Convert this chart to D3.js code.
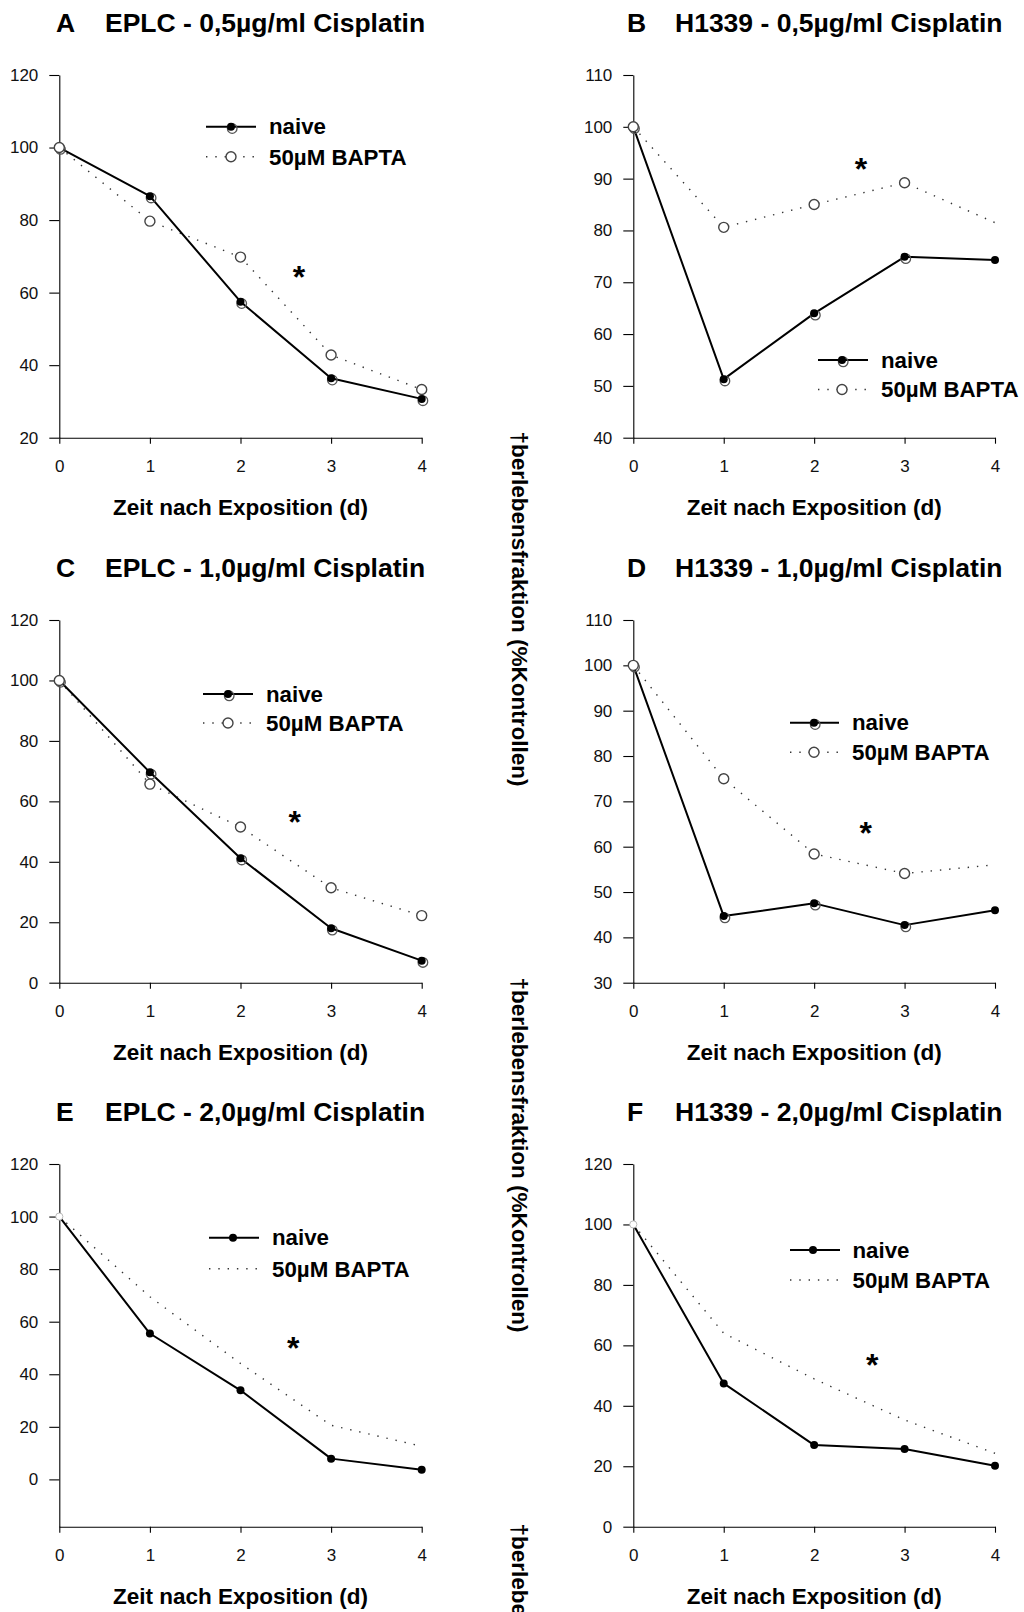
<!DOCTYPE html>
<html><head><meta charset="utf-8">
<script src="https://cdn.jsdelivr.net/npm/d3@7"></script>
<style>
body{margin:0;background:#fff}
svg{display:block}
text{font-family:"Liberation Sans",Arial,Helvetica,sans-serif}
</style>
</head><body>
<svg id="c" width="1024" height="1612"></svg>
<script>
// ---------- data ----------
const days = [0, 1, 2, 3, 4];
const panelLetters = ["A", "B", "C", "D", "E", "F"];
const panelTitles = [
  "EPLC - 0,5µg/ml Cisplatin", "H1339 - 0,5µg/ml Cisplatin",
  "EPLC - 1,0µg/ml Cisplatin", "H1339 - 1,0µg/ml Cisplatin",
  "EPLC - 2,0µg/ml Cisplatin", "H1339 - 2,0µg/ml Cisplatin"
];
const seriesNames = ["naive", "50µM BAPTA"];
const xLabel = "Zeit nach Exposition (d)";
const yLabel = "†berlebensfraktion (%Kontrollen)";
const starLabel = "*";

const naiveA = [100, 86.6, 57.5, 36.4, 30.7];
const baptaA = [100, 79.7, 69.8, 42.8, 33.3];
const naiveB = [100, 51.3, 64.0, 74.9, 74.3];
const baptaB = [100, 80.6, 85.0, 89.2, 81.5];
const naiveC = [100, 69.6, 41.2, 18.0, 7.3];
const baptaC = [100, 65.7, 51.5, 31.4, 22.2];
const naiveD = [100, 44.7, 47.5, 42.7, 46.0];
const baptaD = [100, 75.0, 58.4, 54.1, 56.0];
const naiveE = [100, 55.5, 33.9, 7.9, 3.7];
const baptaE = [100, 69.5, 44.1, 20.6, 12.6];
const naiveF = [100, 47.4, 27.0, 25.7, 20.2];
const baptaF = [100, 64.0, 48.9, 35.3, 24.3];

const yDomains = [[20, 120], [40, 110], [0, 120], [30, 110], [-18, 120], [0, 120]];
const yTicks20 = [20, 40, 60, 80, 100, 120];
const yTicks40 = [40, 50, 60, 70, 80, 90, 100, 110];
const yTicks0 = [0, 20, 40, 60, 80, 100, 120];
const yTicks30 = [30, 40, 50, 60, 70, 80, 90, 100, 110];
const xTicks = [0, 1, 2, 3, 4];
// days on which symbols are drawn (panels B and D lose them at day 4)
const symbolDaysFull = [0, 1, 2, 3, 4];
const symbolDaysCut = [0, 1, 2, 3];

// ---------- layout ----------
const cols = [{x0: 59.3, x1: 421.7, letter: 56, title: 105},
              {x0: 633.3, x1: 995, letter: 627, title: 675}];
const rows = [{top: 75, bot: 437.7}, {top: 620, bot: 982.7}, {top: 1164, bot: 1526.7}];

const panels = [
  {naive: naiveA, bapta: baptaA, yt: yTicks20, sym: symbolDaysFull, style: "ring",
   leg: {x0: 206, x1: 256, m: 231, tx: 269, y: 126.7, dy: 30}, star: [299, 271]},
  {naive: naiveB, bapta: baptaB, yt: yTicks40, sym: symbolDaysCut, style: "ring",
   leg: {x0: 818, x1: 868, m: 842, tx: 881, y: 360, dy: 29.5}, star: [861, 163]},
  {naive: naiveC, bapta: baptaC, yt: yTicks0, sym: symbolDaysFull, style: "ring",
   leg: {x0: 203, x1: 253, m: 228, tx: 266, y: 694, dy: 29}, star: [294.7, 816]},
  {naive: naiveD, bapta: baptaD, yt: yTicks30, sym: symbolDaysCut, style: "ring",
   leg: {x0: 790, x1: 839, m: 814, tx: 852, y: 722.7, dy: 29.6}, star: [865.7, 826.7]},
  {naive: naiveE, bapta: baptaE, yt: yTicks0, sym: symbolDaysFull, style: "dot",
   leg: {x0: 209, x1: 259, m: 233, tx: 272, y: 1237.7, dy: 31}, star: [293.3, 1342.3]},
  {naive: naiveF, bapta: baptaF, yt: yTicks0, sym: symbolDaysFull, style: "dot",
   leg: {x0: 790, x1: 840, m: 813, tx: 852.5, y: 1250, dy: 30}, star: [872.3, 1359]}
];

const svg = d3.select("#c");
const FONT = '"Liberation Sans",Arial,Helvetica,sans-serif';

function ringMarker(g, cx, cy) {
  g.append("circle").attr("cx", cx + 1.2).attr("cy", cy + 1.8).attr("r", 4.8)
    .attr("fill", "none").attr("stroke", "#555").attr("stroke-width", 1.3);
  g.append("circle").attr("cx", cx).attr("cy", cy).attr("r", 4)
    .attr("fill", "#000");
}
function openMarker(g, cx, cy) {
  g.append("circle").attr("cx", cx).attr("cy", cy).attr("r", 5)
    .attr("fill", "#fff").attr("stroke", "#444").attr("stroke-width", 1.4);
}
function dotMarker(g, cx, cy) {
  g.append("circle").attr("cx", cx).attr("cy", cy).attr("r", 4).attr("fill", "#000");
}

panels.forEach((p, i) => {
  const col = cols[i % 2], row = rows[Math.floor(i / 2)];
  const x = d3.scaleLinear().domain([0, 4]).range([col.x0, col.x1]);
  const y = d3.scaleLinear().domain(yDomains[i]).range([row.bot, row.top]);
  const g = svg.append("g");

  // axes
  const ya = g.append("g").attr("transform", `translate(${col.x0},0)`)
    .call(d3.axisLeft(y).tickValues(p.yt).tickFormat(d3.format("d"))
      .tickSize(10).tickSizeOuter(0).tickPadding(11));
  const xa = g.append("g").attr("transform", `translate(0,${row.bot})`)
    .call(d3.axisBottom(x).tickValues(xTicks).tickFormat(d3.format("d"))
      .tickSize(6).tickSizeOuter(0).tickPadding(16.3));
  [ya, xa].forEach(a => {
    a.attr("font-family", FONT).attr("font-size", 17);
    a.selectAll("path,line").attr("stroke", "#000").attr("stroke-width", 1.1);
    a.selectAll("text").attr("fill", "#111");
  });

  // title
  g.append("text").attr("x", col.letter).attr("y", row.top - 43)
    .attr("font-size", 26.5).attr("font-weight", "bold").text(panelLetters[i]);
  g.append("text").attr("x", col.title).attr("y", row.top - 43)
    .attr("font-size", 26.5).attr("font-weight", "bold").text(panelTitles[i]);

  // x label
  g.append("text").attr("x", (col.x0 + col.x1) / 2).attr("y", row.bot + 77.5)
    .attr("text-anchor", "middle").attr("font-size", 22.5).attr("font-weight", "bold").text(xLabel);

  const naivePts = days.map((d, k) => ({d, v: p.naive[k]}));
  const baptaPts = days.map((d, k) => ({d, v: p.bapta[k]}));
  const line = d3.line().x(q => x(q.d)).y(q => y(q.v));

  // BAPTA dotted line
  g.append("path").attr("d", line(baptaPts)).attr("fill", "none")
    .attr("stroke", "#333").attr("stroke-width", 1.4).attr("stroke-dasharray", "1.4 7.9");
  // naive solid line
  g.append("path").attr("d", line(naivePts)).attr("fill", "none")
    .attr("stroke", "#000").attr("stroke-width", 2).attr("stroke-linejoin", "round");

  if (p.style === "ring") {
    naivePts.forEach(q => {
      if (p.sym.includes(q.d)) ringMarker(g, x(q.d), y(q.v));
      else dotMarker(g, x(q.d), y(q.v));
    });
    baptaPts.forEach(q => { if (p.sym.includes(q.d)) openMarker(g, x(q.d), y(q.v)); });
  } else {
    naivePts.forEach(q => {
      if (q.d === 0) {
        g.append("circle").attr("cx", x(q.d)).attr("cy", y(q.v)).attr("r", 3.6)
          .attr("fill", "#fff").attr("stroke", "#aaa").attr("stroke-width", 0.8);
      } else dotMarker(g, x(q.d), y(q.v));
    });
  }

  // star
  g.append("text").attr("x", p.star[0]).attr("y", p.star[1] + 17)
    .attr("text-anchor", "middle").attr("font-size", 32).attr("font-weight", "bold").text(starLabel);

  // legend
  const L = p.leg;
  g.append("line").attr("x1", L.x0).attr("x2", L.x1).attr("y1", L.y).attr("y2", L.y)
    .attr("stroke", "#000").attr("stroke-width", 2);
  g.append("line").attr("x1", L.x0).attr("x2", L.x1).attr("y1", L.y + L.dy).attr("y2", L.y + L.dy)
    .attr("stroke", "#333").attr("stroke-width", 1.4).attr("stroke-dasharray", "1.4 7.9");
  if (p.style === "ring") {
    ringMarker(g, L.m, L.y);
    openMarker(g, L.m, L.y + L.dy);
  } else {
    dotMarker(g, L.m, L.y);
  }
  g.append("text").attr("x", L.tx).attr("y", L.y + 7.5)
    .attr("font-size", 22.3).attr("font-weight", "bold").text(seriesNames[0]);
  g.append("text").attr("x", L.tx).attr("y", L.y + L.dy + 7.8)
    .attr("font-size", 22.3).attr("font-weight", "bold").text(seriesNames[1]);
});

// rotated y labels (the third one runs off the bottom edge, as in the original)
[609, 1155, 1701].forEach(cy => {
  svg.append("text").attr("transform", `translate(512,${cy}) rotate(90)`)
    .attr("text-anchor", "middle").attr("font-size", 22.5).attr("font-weight", "bold").text(yLabel);
});
</script>
</body></html>
